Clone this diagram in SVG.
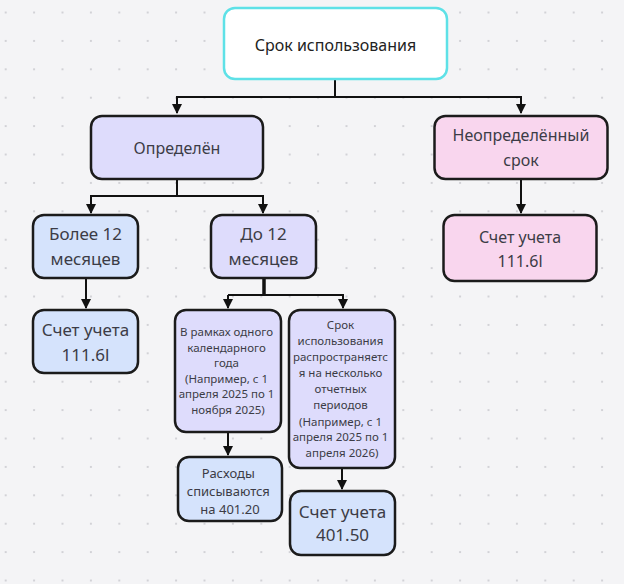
<svg xmlns="http://www.w3.org/2000/svg" width="624" height="584" viewBox="0 0 624 584">
<defs>
<pattern id="dots" x="5.7" y="12.5" width="28.4" height="28.4" patternUnits="userSpaceOnUse">
<circle cx="0" cy="0" r="1.1" fill="#cacacf"/><circle cx="28.4" cy="0" r="1.1" fill="#cacacf"/><circle cx="0" cy="28.4" r="1.1" fill="#cacacf"/><circle cx="28.4" cy="28.4" r="1.1" fill="#cacacf"/>
</pattern>
<marker id="arr" viewBox="0 0 10 10" refX="9" refY="5" markerWidth="5" markerHeight="5" markerUnits="strokeWidth" orient="auto">
<path d="M0,0 L10,5 L0,10 z" fill="#111"/>
</marker>
<style>
.n{stroke:#1b1b1b;stroke-width:2.5}
.lav{fill:#dedcfc}
.blue{fill:#d5e3fc}
.pink{fill:#f9d6ee}
.t{font-family:"Noto Sans","Open Sans",sans-serif;fill:#3c3c46;text-anchor:middle}
.c{fill:none;stroke:#111;stroke-width:2}
</style>
</defs>
<rect width="624" height="584" fill="#f4f4f6"/>
<rect width="624" height="584" fill="url(#dots)"/>
<g id="connectors">
<path class="c" d="M335,79 V97 H177 V113" marker-end="url(#arr)"/>
<path class="c" d="M335,97 H521 V113" marker-end="url(#arr)"/>
<path class="c" d="M177,179 V196 H91 V213" marker-end="url(#arr)"/>
<path class="c" d="M177,196 H263 V213" marker-end="url(#arr)"/>
<path class="c" d="M86,278 V308" marker-end="url(#arr)"/>
<path class="c" d="M521,179 V213" marker-end="url(#arr)"/>
<path d="M264,278 V295" fill="none" stroke="#111" stroke-width="3.5"/>
<path class="c" d="M228,295 V308" marker-end="url(#arr)"/>
<path class="c" d="M228,295 H343 V308" marker-end="url(#arr)"/>
<path class="c" d="M228,432 V455" marker-end="url(#arr)"/>
<path class="c" d="M342,468 V489" marker-end="url(#arr)"/>
</g>
<g id="n-srok">
<rect x="224" y="8" width="223" height="71" rx="11" fill="#fff" stroke="#5ee1e7" stroke-width="2.5"/>
<text class="t" x="335.5" y="51" font-size="16" style="fill:#222">Срок использования</text>
</g>
<g id="n-opredelen">
<rect class="n lav" x="91" y="116" width="172" height="63" rx="11"/>
<text class="t" x="177" y="154" font-size="16">Определён</text>
</g>
<g id="n-neopr">
<rect class="n pink" x="434.5" y="116" width="173" height="63" rx="11"/>
<text class="t" x="521" y="141" font-size="16">Неопределённый</text>
<text class="t" x="521" y="166" font-size="16">срок</text>
</g>
<g id="n-bolee">
<rect class="n blue" x="33" y="215" width="105" height="63" rx="11"/>
<text class="t" x="85.5" y="240" font-size="17">Более 12</text>
<text class="t" x="85.5" y="265" font-size="17">месяцев</text>
</g>
<g id="n-do12">
<rect class="n lav" x="211" y="215" width="105" height="63" rx="11"/>
<text class="t" x="263.5" y="240" font-size="17">До 12</text>
<text class="t" x="263.5" y="265" font-size="17">месяцев</text>
</g>
<g id="n-schet1116-a">
<rect class="n blue" x="33" y="310" width="105" height="63" rx="11"/>
<text class="t" x="85.5" y="336" font-size="17">Счет учета</text>
<text class="t" x="85.5" y="361" font-size="17">111.6l</text>
</g>
<g id="n-schet1116-b">
<rect class="n pink" x="443.5" y="215" width="153" height="66" rx="11"/>
<text class="t" x="520" y="243" font-size="16">Счет учета</text>
<text class="t" x="520" y="267" font-size="16">111.6l</text>
</g>
<g id="n-vramkah">
<rect class="n lav" x="175" y="310" width="106" height="122" rx="11"/>
<text class="t" font-size="11.5">
<tspan x="228" y="336">В рамках одного</tspan>
<tspan x="228" y="351.5">календарного</tspan>
<tspan x="228" y="367">года</tspan>
<tspan x="228" y="382.5">(Например, с 1</tspan>
<tspan x="228" y="398">апреля 2025 по 1</tspan>
<tspan x="228" y="413.5">ноября 2025)</tspan>
</text>
</g>
<g id="n-srok2">
<rect class="n lav" x="289" y="310" width="106" height="158" rx="11"/>
<text class="t" font-size="11.5">
<tspan x="342" y="329">Срок</tspan>
<tspan x="342" y="345">использования</tspan>
<tspan x="342" y="361">распространяетс</tspan>
<tspan x="342" y="377">я на несколько</tspan>
<tspan x="342" y="393">отчетных</tspan>
<tspan x="342" y="409">периодов</tspan>
<tspan x="342" y="425.5">(Например, с 1</tspan>
<tspan x="342" y="441">апреля 2025 по 1</tspan>
<tspan x="342" y="457">апреля 2026)</tspan>
</text>
</g>
<g id="n-rashody">
<rect class="n blue" x="178" y="457" width="104" height="64" rx="11"/>
<text class="t" font-size="13">
<tspan x="230" y="477.5">Расходы</tspan>
<tspan x="230" y="495.5">списываются</tspan>
<tspan x="230" y="513.5">на 401.20</tspan>
</text>
</g>
<g id="n-schet40150">
<rect class="n blue" x="290" y="491" width="105" height="64" rx="11"/>
<text class="t" x="342.5" y="518" font-size="17">Счет учета</text>
<text class="t" x="342.5" y="541" font-size="17">401.50</text>
</g>
</svg>
